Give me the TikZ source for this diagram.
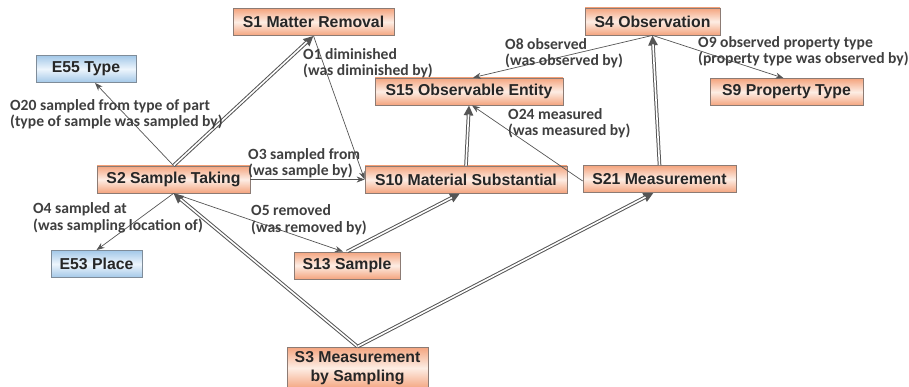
\documentclass[tikz,border=0pt]{standalone}
\usepackage{fontspec}
\setmainfont{Liberation Sans}
\newfontfamily\labelfont{Carlito}
\usetikzlibrary{arrows.meta}

\definecolor{salmon}{HTML}{F4A47E}
\definecolor{salmonlight}{HTML}{FDEDE4}
\definecolor{skyblue}{HTML}{A3C8E8}
\definecolor{skylight}{HTML}{EDF5FC}
\definecolor{boxedge}{HTML}{8C7B74}
\definecolor{skyedge}{HTML}{7F8C99}
\definecolor{linkgray}{HTML}{555555}
\definecolor{textgray}{HTML}{3F3F3F}

\tikzset{
  sbox/.style={draw=boxedge, line width=0.8pt, top color=salmon, bottom color=salmon,
    middle color=salmonlight, font=\fontsize{15.8}{19}\selectfont\bfseries,
    text=black!85, minimum height=27pt, inner sep=0pt, align=center},
  ebox/.style={sbox, draw=skyedge, top color=skyblue, bottom color=skyblue, middle color=skylight},
  rel/.style={font=\labelfont\bfseries\fontsize{15.6}{16.5}\selectfont, text=textgray,
    align=left, anchor=west, inner sep=0pt},
  relarrow/.style={draw=linkgray, line width=0.7pt, -{Stealth[length=8pt,width=6pt]}},
  subarrow/.style={draw=linkgray, line width=3.6pt, -{Triangle[length=10pt,width=9pt]},
    postaction={draw=white, line width=1.6pt, -, shorten >=9pt}},
}

\begin{document}
\begin{tikzpicture}[x=1pt,y=-1pt]
\useasboundingbox (0,0) rectangle (909,387);

% classes
\node[sbox, minimum width=161pt] (s1) at (313.5,22) {S1 Matter Removal};
\node[ebox, minimum width=100pt] (e55) at (86,69) {E55 Type};
\node[sbox, minimum width=188pt] (s15) at (469,91.5) {S15 Observable Entity};
\node[sbox, minimum width=135pt] (s4) at (652.5,21.5) {S4 Observation};
\node[sbox, minimum width=153pt] (s9) at (786.5,92) {S9 Property Type};
\node[sbox, minimum width=153pt] (s2) at (173.5,179.5) {S2 Sample Taking};
\node[sbox, minimum width=202pt] (s10) at (466,179.5) {S10 Material Substantial};
\node[sbox, minimum width=153pt] (s21) at (659.5,179) {S21 Measurement};
\node[ebox, minimum width=91pt] (e53) at (96.5,264) {E53 Place};
\node[sbox, minimum width=106pt] (s13) at (347,265.5) {S13 Sample};
\node[sbox, minimum width=141pt, minimum height=42pt] (s3) at (357.5,368) {S3 Measurement\\by Sampling};

% subclass links
\draw[subarrow] (s2.north) -- (s1.south);
\draw[subarrow] (s3.north) -- (s2.south);
\draw[subarrow] (s3.north) -- ([xshift=-6pt]s21.south);
\draw[subarrow] (s13.north) -- ([xshift=-6pt]s10.south);
\draw[subarrow] (s10.north) -- (s15.south);
\draw[subarrow] (s21.north) -- (s4.south);

% properties
\draw[relarrow] (s2.north) -- ([xshift=9pt]e55.south);
\draw[relarrow] (s1.south) -- (s10.west);
\draw[relarrow] (s2.east) -- (s10.west);
\draw[relarrow] (s2.south) -- (e53.north);
\draw[relarrow] (s2.south) -- ([xshift=-4pt]s13.north);
\draw[relarrow] (s4.south) -- ([xshift=4pt]s15.north);
\draw[relarrow] (s4.south) -- ([xshift=-3pt]s9.north);
\draw[relarrow] ([yshift=-2pt]s21.west) -- ([xshift=3pt]s15.south);

\node[rel] (o1) at (303,63.5) {O1 diminished\\(was diminished by)};
\node[rel] (o20) at (10,114.5) {O20 sampled from type of part\\(type of sample was sampled by)};
\node[rel] (o3) at (248,163.5) {O3 sampled from\\(was sample by)};
\node[rel] (o4) at (33,218) {O4 sampled at\\(was sampling location of)};
\node[rel] (o5) at (251,220) {O5 removed\\(was removed by)};
\node[rel] (o8) at (505,53.5) {O8 observed\\(was observed by)};
\node[rel] (o9) at (698,51.5) {O9 observed property type\\(property type was observed by)};
\node[rel] (o24) at (508,123.5) {O24 measured\\(was measured by)};
\end{tikzpicture}
\end{document}
